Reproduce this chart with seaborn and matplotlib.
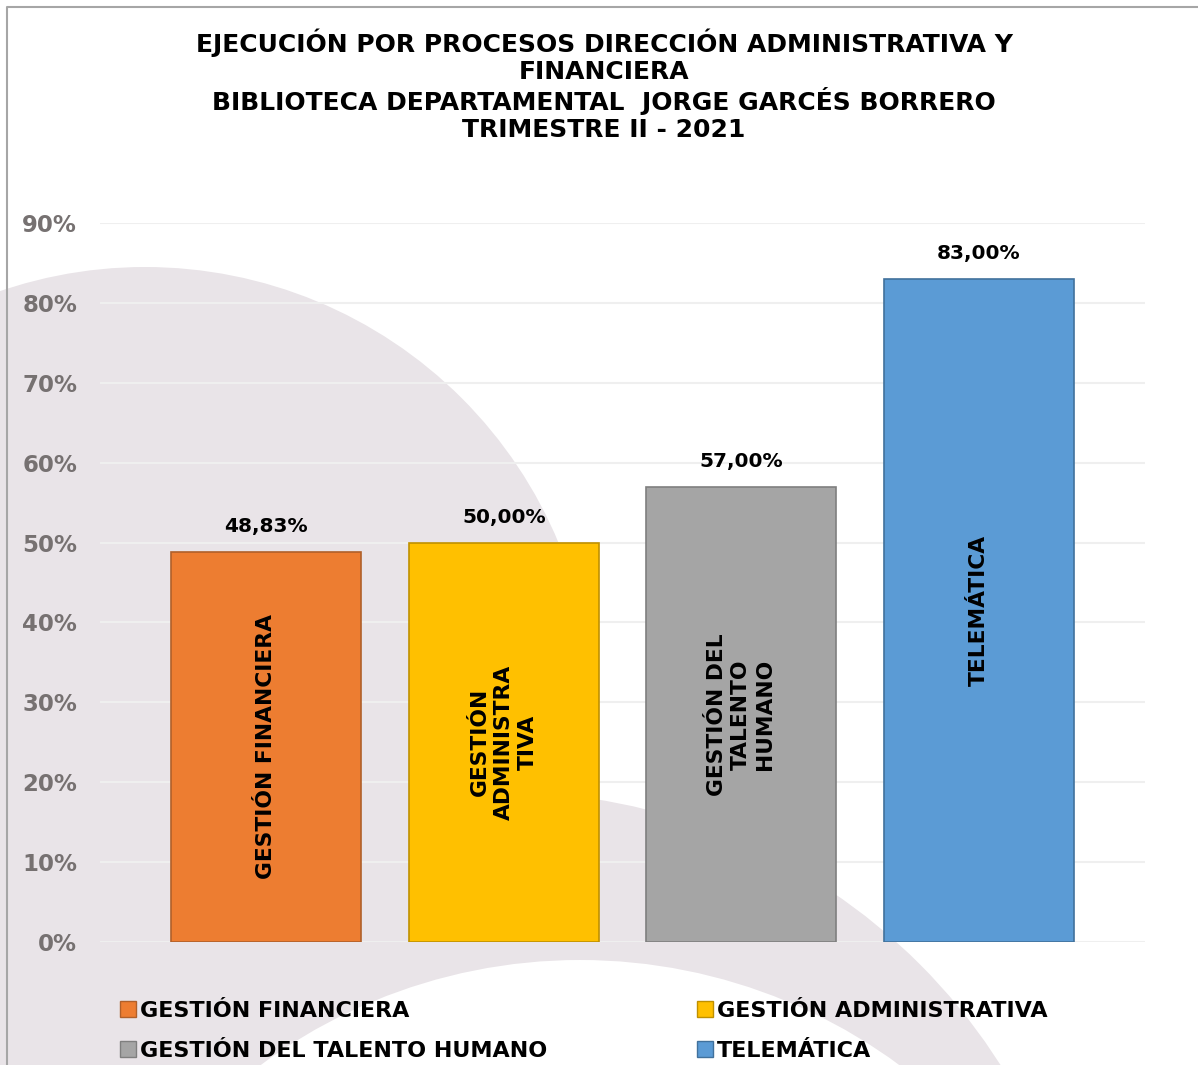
import numpy as np
import matplotlib.pyplot as plt
import seaborn as sns
from matplotlib.patches import Circle, Patch
from matplotlib.ticker import FuncFormatter

# datos del grafico
categorias = ['GESTIÓN FINANCIERA', 'GESTIÓN ADMINISTRATIVA',
              'GESTIÓN DEL TALENTO HUMANO', 'TELEMÁTICA']
etiquetas_barra = ['GESTIÓN FINANCIERA', 'GESTIÓN\nADMINISTRA\nTIVA',
                   'GESTIÓN DEL\nTALENTO\nHUMANO', 'TELEMÁTICA']
ejecucion = [0.4883, 0.50, 0.57, 0.83]
etiquetas_valor = ['48,83%', '50,00%', '57,00%', '83,00%']
colores = ['#ED7D31', '#FFC000', '#A5A5A5', '#5B9BD5']
bordes = ['#B0602A', '#BF9000', '#7F7F7F', '#41719C']
titulo = ['EJECUCIÓN POR PROCESOS DIRECCIÓN ADMINISTRATIVA Y',
          'FINANCIERA',
          'BIBLIOTECA DEPARTAMENTAL  JORGE GARCÉS BORRERO',
          'TRIMESTRE II - 2021']

sns.set_style('white')
plt.rcParams['font.family'] = ['DejaVu Sans']

W, H = 1198, 1065
fig = plt.figure(figsize=(W / 100, H / 100), dpi=100)
fig.patch.set_facecolor('white')

# fondo decorativo (circulos grises)
bg = fig.add_axes([0, 0, 1, 1])
bg.set_xlim(0, W)
bg.set_ylim(H, 0)
bg.axis('off')
gris_fondo = '#E9E4E8'
bg.add_patch(Circle((145, 715), 448, color=gris_fondo, lw=0))
bg.add_patch(Circle((504, 1380), 588, color=gris_fondo, lw=0))
bg.add_patch(Circle((580, 1498), 538, color='white', lw=0))
bg.plot([7, 7, W], [H, 7, 7], color='#A6A6A6', lw=1.5)

# titulo
for i, linea in enumerate(titulo):
    fig.text(604 / W, 1 - (43 + 29 * i) / H, linea, ha='center', va='center',
             fontsize=18, fontweight='bold', color='black')

# grafico de barras
ax = fig.add_axes([100 / W, 1 - 942 / H, 1045 / W, (942 - 223) / H])
ax.set_zorder(1)
ax.patch.set_visible(False)
sns.barplot(x=categorias, y=ejecucion, hue=categorias, palette=colores,
            saturation=1, width=0.8, legend=False, ax=ax, zorder=3)

for barra, borde in zip(ax.patches, bordes):
    barra.set_edgecolor(borde)
    barra.set_linewidth(1.2)

for i, (v, et, eb) in enumerate(zip(ejecucion, etiquetas_valor, etiquetas_barra)):
    ax.annotate(et, (i, v), xytext=(0, 18), textcoords='offset points',
                ha='center', va='center', fontsize=14.5, fontweight='bold', color='black')
    ax.text(i, v / 2, eb, rotation=90, ha='center', va='center', fontsize=15.7,
            fontweight='bold', color='black', linespacing=1.25, zorder=4)

ax.set_xlim(-0.7, 3.7)
ax.set_ylim(0, 0.9)
ax.set_yticks(np.arange(0, 0.91, 0.1))
ax.yaxis.set_major_formatter(FuncFormatter(lambda y, _: f'{y * 100:.0f}%'))
ax.set_xticks([])
ax.yaxis.grid(True, color='#EFEFEF', lw=1.5)
ax.set_axisbelow(True)
ax.tick_params(left=False, bottom=False, pad=13, labelsize=16.5, labelcolor='#767171')
for t in ax.get_yticklabels():
    t.set_fontweight('bold')
for s in ax.spines.values():
    s.set_visible(False)
ax.set_xlabel('')
ax.set_ylabel('')

# leyenda en dos columnas, ordenada por filas
handles = [Patch(facecolor=c, edgecolor=b, lw=1) for c, b in zip(colores, bordes)]
orden = [0, 2, 1, 3]
fig.legend([handles[k] for k in orden], [categorias[k] for k in orden],
           ncol=2, loc='upper left', bbox_to_anchor=(120 / W, 1 - 1001 / H),
           frameon=False, borderpad=0, borderaxespad=0, handlelength=0.7,
           handleheight=0.7, handletextpad=0.2, columnspacing=6.75,
           labelspacing=0.9, labelcolor='black',
           prop={'weight': 'bold', 'size': 16})

fig.savefig('out.png', dpi=100)
